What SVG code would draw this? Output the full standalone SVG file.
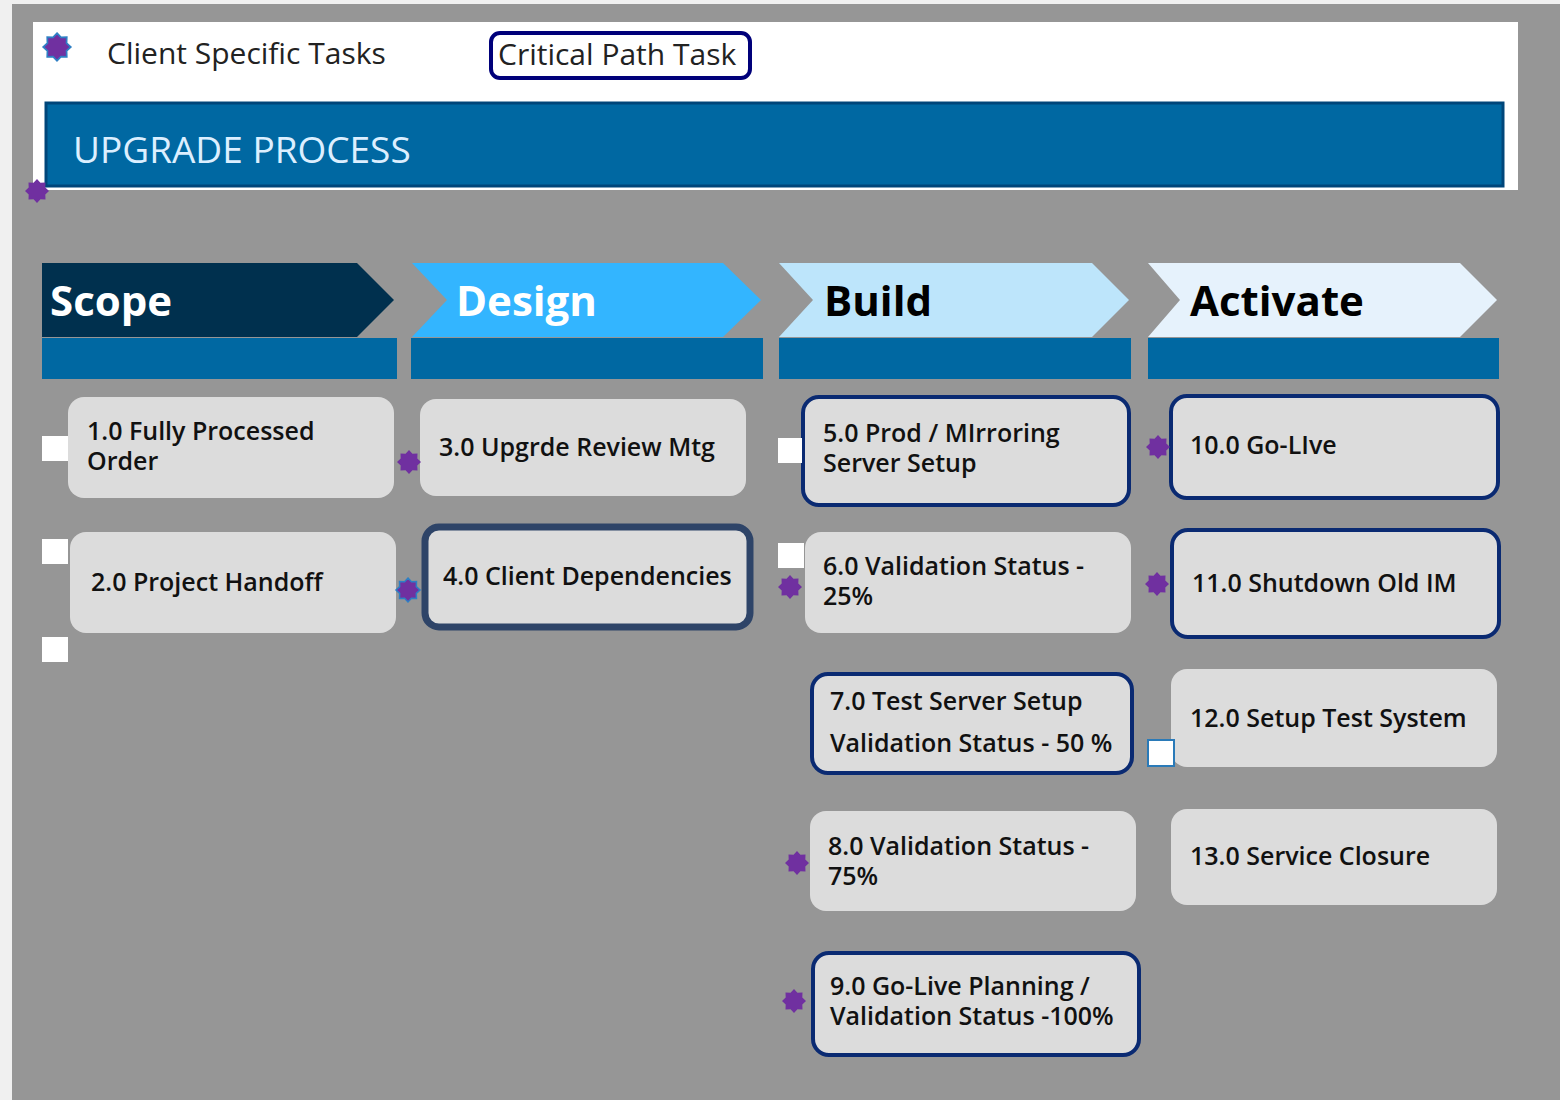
<svg xmlns="http://www.w3.org/2000/svg" width="1560" height="1100" viewBox="0 0 1560 1100">
<defs>
<style>
.box{fill:#dcdcdc;}
.crit{fill:#dcdcdc;stroke:#0a2a72;stroke-width:4;}
.t{font-family:"Open Sans","Noto Sans","DejaVu Sans",sans-serif;font-size:25px;font-weight:600;fill:#111;}
.ph{font-family:"Open Sans","Noto Sans","DejaVu Sans",sans-serif;font-size:42px;font-weight:700;}
.sq{fill:#ffffff;}
.bar{fill:#0068a2;}
.star{fill:#7030a0;}
.starb{fill:#7030a0;stroke:#2e7fc4;stroke-width:1.5;}
</style>
<path id="st" d="M0,-12 L3.44,-8.31 L8.49,-8.49 L8.31,-3.44 L12,0 L8.31,3.44 L8.49,8.49 L3.44,8.31 L0,12 L-3.44,8.31 L-8.49,8.49 L-8.31,3.44 L-12,0 L-8.31,-3.44 L-8.49,-8.49 L-3.44,-8.31 Z"/>
</defs>
<rect x="0" y="0" width="1560" height="1100" fill="#f0f0f0"/>
<rect x="12" y="4" width="1548" height="1096" fill="#969696"/>

<g id="header">
<rect x="33" y="22" width="1485" height="168" fill="#ffffff"/>
<rect x="46" y="103" width="1457" height="83" fill="#0068a2" stroke="#00467a" stroke-width="3"/>
<text x="73" y="163" font-family="'Open Sans','Noto Sans',sans-serif" font-size="37" fill="#dcefff">UPGRADE PROCESS</text>
</g>

<g id="legend">
<use href="#st" class="starb" transform="translate(57,47) scale(1.15)"/>
<text x="107" y="64" font-family="'Open Sans','Noto Sans',sans-serif" font-size="30" fill="#222">Client Specific Tasks</text>
<rect x="491" y="33" width="259" height="45" rx="9" fill="#ffffff" stroke="#00007a" stroke-width="4"/>
<text x="498" y="65" font-family="'Open Sans','Noto Sans',sans-serif" font-size="30" fill="#222">Critical Path Task</text>
</g>
<use href="#st" class="star" transform="translate(37,191)"/>

<g id="phase-scope">
<path d="M42,263 L357,263 L394,300 L357,337 L42,337 Z" fill="#00304e"/>
<rect class="bar" x="42" y="338" width="355" height="41"/>
<text class="ph" x="50" y="316" fill="#ffffff">Scope</text>
</g>
<g id="phase-design">
<path d="M412,263 L723,263 L761,300 L723,337 L412,337 L447,300 Z" fill="#33b5ff"/>
<rect class="bar" x="411" y="338" width="352" height="41"/>
<text class="ph" x="456" y="316" fill="#ffffff">Design</text>
</g>
<g id="phase-build">
<path d="M779,263 L1092,263 L1129,300 L1092,337 L779,337 L813,300 Z" fill="#bde5fb"/>
<rect class="bar" x="779" y="338" width="352" height="41"/>
<text class="ph" x="824" y="316" fill="#000000">Build</text>
</g>
<g id="phase-activate">
<path d="M1148,263 L1460,263 L1497,300 L1460,337 L1148,337 L1180,300 Z" fill="#e6f2fc"/>
<rect class="bar" x="1148" y="338" width="351" height="41"/>
<text class="ph" x="1190" y="316" fill="#000000">Activate</text>
</g>

<g id="n1">
<rect class="box" x="68" y="397" width="326" height="101" rx="16"/>
<text class="t" x="87" y="440">1.0 Fully Processed</text>
<text class="t" x="87" y="470">Order</text>
</g>
<g id="n2">
<rect class="box" x="70" y="532" width="326" height="101" rx="16"/>
<text class="t" x="91" y="591">2.0 Project Handoff</text>
</g>
<g id="n3">
<rect class="box" x="420" y="399" width="326" height="97" rx="16"/>
<text class="t" x="439" y="456">3.0 Upgrde Review Mtg</text>
</g>
<g id="n4">
<rect x="425" y="527" width="325" height="100" rx="14" fill="#dcdcdc" stroke="#2e4468" stroke-width="7"/>
<text class="t" x="443" y="585">4.0 Client Dependencies</text>
</g>
<g id="n5">
<rect class="crit" x="803" y="397" width="326" height="108" rx="16"/>
<text class="t" x="823" y="442">5.0 Prod / MIrroring</text>
<text class="t" x="823" y="472">Server Setup</text>
</g>
<g id="n6">
<rect class="box" x="805" y="532" width="326" height="101" rx="16"/>
<text class="t" x="823" y="575">6.0 Validation Status -</text>
<text class="t" x="823" y="605">25%</text>
</g>
<g id="n7">
<rect class="crit" x="812" y="674" width="320" height="99" rx="16"/>
<text class="t" x="830" y="710">7.0 Test Server Setup</text>
<text class="t" x="830" y="752">Validation Status - 50 %</text>
</g>
<g id="n8">
<rect class="box" x="810" y="811" width="326" height="100" rx="16"/>
<text class="t" x="828" y="855">8.0 Validation Status -</text>
<text class="t" x="828" y="885">75%</text>
</g>
<g id="n9">
<rect class="crit" x="813" y="953" width="326" height="102" rx="16" stroke-width="5"/>
<text class="t" x="830" y="995">9.0 Go-Live Planning /</text>
<text class="t" x="830" y="1025">Validation Status -100%</text>
</g>
<g id="n10">
<rect class="crit" x="1171" y="396" width="327" height="102" rx="16"/>
<text class="t" x="1190" y="454">10.0 Go-LIve</text>
</g>
<g id="n11">
<rect class="crit" x="1172" y="530" width="327" height="107" rx="16" stroke-width="5"/>
<text class="t" x="1192" y="592">11.0 Shutdown Old IM</text>
</g>
<g id="n12">
<rect class="box" x="1171" y="669" width="326" height="98" rx="16"/>
<text class="t" x="1190" y="727">12.0 Setup Test System</text>
</g>
<g id="n13">
<rect class="box" x="1171" y="809" width="326" height="96" rx="16"/>
<text class="t" x="1190" y="865">13.0 Service Closure</text>
</g>

<g id="markers">
<rect class="sq" x="42" y="436" width="26" height="25"/>
<rect class="sq" x="42" y="539" width="26" height="25"/>
<rect class="sq" x="42" y="637" width="26" height="25"/>
<rect class="sq" x="778" y="438" width="24" height="25"/>
<rect class="sq" x="778" y="543" width="26" height="25"/>
<rect x="1148" y="740" width="26" height="26" fill="#ffffff" stroke="#2a7ab8" stroke-width="2"/>
<use href="#st" class="star" transform="translate(409,462)"/>
<use href="#st" class="starb" transform="translate(408,590)"/>
<use href="#st" class="star" transform="translate(790,587)"/>
<use href="#st" class="star" transform="translate(797,863)"/>
<use href="#st" class="star" transform="translate(794,1001)"/>
<use href="#st" class="star" transform="translate(1158,447)"/>
<use href="#st" class="star" transform="translate(1157,584)"/>
</g>
<g id="connectors"></g>
</svg>
